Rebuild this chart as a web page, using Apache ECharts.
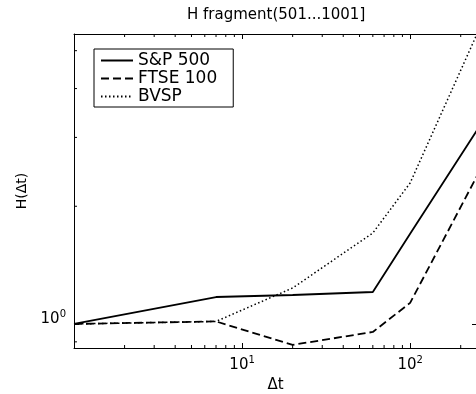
<!DOCTYPE html>
<html><head><meta charset="utf-8">
<script src="https://cdn.jsdelivr.net/npm/echarts@6/dist/echarts.min.js"></script>
<style>html,body{margin:0;padding:0;background:#fff;overflow:hidden;width:476px;height:394px}#c{width:520px;height:394px}</style>
</head><body><div id="c"></div>
<script>
const dt = [1, 7, 20, 60, 100, 250];
const sp500 = [1.0, 1.172, 1.186, 1.207, 1.70, 3.13];
const ftse100 = [1.0, 1.015, 0.884, 0.954, 1.132, 2.39];
const bvsp = [1.0, 1.015, 1.236, 1.709, 2.294, 5.516];
const xRange = [1, 250];
const yRange = [0.868, 5.516];
const xMinorTicks = [2, 3, 4, 5, 6, 7, 8, 9, 20, 30, 40, 50, 60, 70, 80, 90, 200];
const yMinorTicks = [0.9, 2, 3, 4, 5];
const seriesNames = ['S&P 500', 'FTSE 100', 'BVSP'];
const titleText = 'H fragment(501...1001]';
const xName = '\u0394t';
const yName = 'H(\u0394t)';

const FONT = 'DejaVu Sans';
const chart = echarts.init(document.getElementById('c'), null, {renderer: 'canvas'});

function powLabel(skipZero) {
  return function (v) {
    const e = Math.log10(v);
    const r = Math.round(e);
    if (Math.abs(e - r) > 1e-6) return '';
    if (skipZero && r === 0) return '';
    return '{b|10}{s|' + r + '}';
  };
}
const richLab = {
  b: {fontFamily: FONT, fontSize: 15, color: '#000', lineHeight: 18, verticalAlign: 'bottom'},
  s: {fontFamily: FONT, fontSize: 10, color: '#000', lineHeight: 18, verticalAlign: 'top'}
};
const axLine = {show: true, lineStyle: {color: '#000', width: 1}};

function pairs(ys) { return dt.map((x, i) => [x, ys[i]]); }
function lineSeries(name, ys, type, width) {
  return {
    name: name, type: 'line', data: pairs(ys), symbol: 'none', showSymbol: false,
    lineStyle: {color: '#000', width: width, type: type}, itemStyle: {color: '#000'},
    clip: true, z: 3, silent: true, animation: false
  };
}

const option = {
  backgroundColor: '#fff',
  animation: false,
  title: {
    text: titleText, left: 187, top: 8, padding: 0,
    textStyle: {fontFamily: FONT, fontSize: 15, fontWeight: 'normal', color: '#000'}
  },
  legend: {
    data: seriesNames, orient: 'vertical', left: 94, top: 49,
    backgroundColor: '#fff', borderColor: '#000', borderWidth: 1, borderRadius: 0,
    padding: [3, 16, 2, 6], itemWidth: 32, itemHeight: 14, itemGap: 1,
    selectedMode: false,
    itemStyle: {color: 'rgba(0,0,0,0)', borderColor: 'rgba(0,0,0,0)', borderWidth: 0},
    textStyle: {fontFamily: FONT, fontSize: 17, color: '#000', lineHeight: 17}
  },
  grid: {left: 74, top: 34, bottom: 46, right: 43, containLabel: false, outerBoundsMode: 'none'},
  xAxis: [{
    type: 'log', logBase: 10, min: xRange[0], max: xRange[1], position: 'bottom',
    name: xName, nameLocation: 'middle', nameGap: 30,
    nameTextStyle: {fontFamily: FONT, fontSize: 15, color: '#000'},
    axisLine: axLine, axisTick: {show: true, inside: true, length: 5, lineStyle: {color: '#000'}},
    axisLabel: {formatter: powLabel(true), margin: 7, rich: richLab},
    splitLine: {show: false}, minorTick: {show: false}
  }, {
    type: 'log', logBase: 10, min: xRange[0], max: xRange[1], position: 'top',
    axisLine: axLine, axisTick: {show: true, inside: true, length: 5, lineStyle: {color: '#000'}},
    axisLabel: {show: false}, splitLine: {show: false}
  }],
  yAxis: [{
    type: 'log', logBase: 10, min: yRange[0], max: yRange[1],
    name: yName, nameLocation: 'middle', nameGap: 44, nameRotate: 90,
    nameTextStyle: {fontFamily: FONT, fontSize: 14, color: '#000'},
    axisLine: axLine, axisTick: {show: true, inside: true, length: 5, lineStyle: {color: '#000'}},
    axisLabel: {formatter: powLabel(false), margin: 8, rich: richLab, padding: [0, 0, 12, 0]},
    splitLine: {show: false}
  }, {
    type: 'log', logBase: 10, min: yRange[0], max: yRange[1], position: 'right',
    axisLine: axLine, axisTick: {show: true, inside: true, length: 5, lineStyle: {color: '#000'}},
    axisLabel: {show: false}, splitLine: {show: false}
  }],
  series: [
    lineSeries(seriesNames[0], sp500, 'solid', 1.8),
    lineSeries(seriesNames[1], ftse100, [8, 4], 1.8),
    lineSeries(seriesNames[2], bvsp, [1.5, 2.5], 1.5),
    {
      type: 'custom', silent: true, z: 5, clip: false,
      data: xMinorTicks.map(v => [v, yRange[0]]),
      renderItem: function (params, api) {
        const v = api.value(0);
        const b = api.coord([v, yRange[0]]);
        const t = api.coord([v, yRange[1]]);
        return {type: 'group', children: [
          {type: 'line', shape: {x1: b[0], y1: b[1], x2: b[0], y2: b[1] - 3}, style: {stroke: '#000', lineWidth: 1}},
          {type: 'line', shape: {x1: t[0], y1: t[1], x2: t[0], y2: t[1] + 3}, style: {stroke: '#000', lineWidth: 1}}
        ]};
      }
    },
    {
      type: 'custom', silent: true, z: 5, clip: false,
      data: yMinorTicks.map(v => [xRange[0], v]),
      renderItem: function (params, api) {
        const v = api.value(1);
        const l = api.coord([xRange[0], v]);
        return {type: 'line', shape: {x1: l[0], y1: l[1], x2: l[0] + 3, y2: l[1]}, style: {stroke: '#000', lineWidth: 1}};
      }
    }
  ]
};
chart.setOption(option);
</script></body></html>
